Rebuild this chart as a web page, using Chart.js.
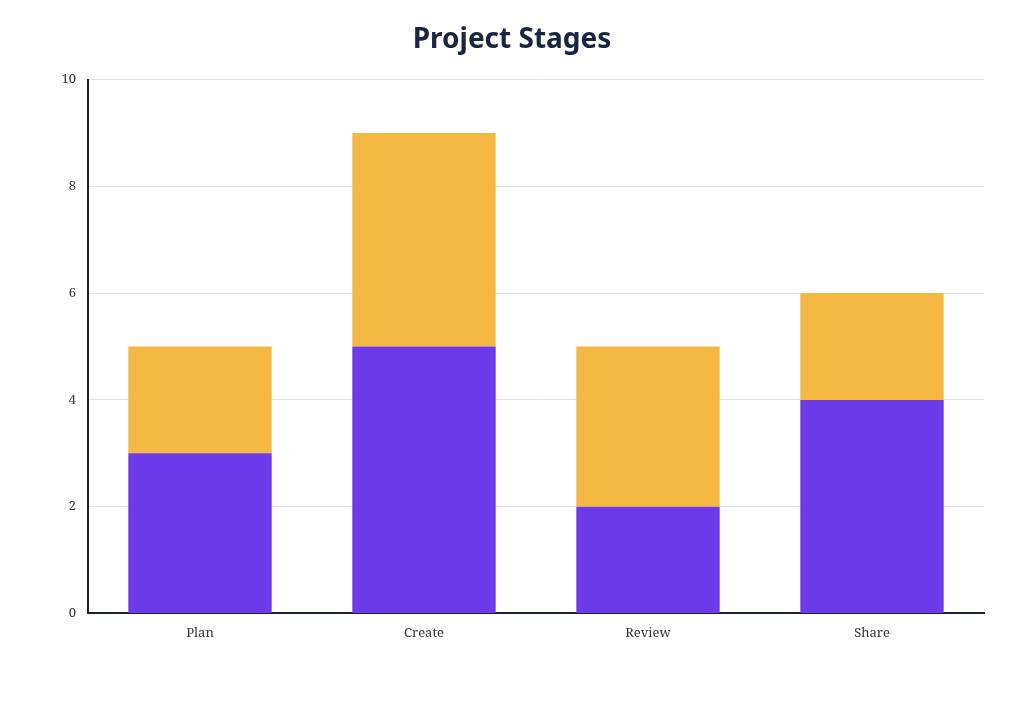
<!DOCTYPE html>
<html>
<head>
<meta charset="utf-8">
<script src="https://cdn.jsdelivr.net/npm/chart.js@4"></script>
<style>
html,body{margin:0;padding:0;background:#fff;}
#wrap{width:1024px;height:705px;}
</style>
</head>
<body>
<div id="wrap"><canvas id="c" width="1024" height="705"></canvas></div>
<script>
const categories = ["Plan", "Create", "Review", "Share"];
const seriesA = [3, 5, 2, 4];
const seriesB = [2, 4, 3, 2];
const yTicks = [0, 2, 4, 6, 8, 10];

const axisColor = '#1b2236';
const tickFont = { family: "'Noto Serif', 'DejaVu Serif', serif", size: 13 };

new Chart(document.getElementById('c'), {
  type: 'bar',
  data: {
    labels: categories,
    datasets: [
      { label: 'A', data: seriesA, backgroundColor: '#6d3ae9', borderWidth: 0, categoryPercentage: 0.8, barPercentage: 0.8 },
      { label: 'B', data: seriesB, backgroundColor: '#f5b843', borderWidth: 0, categoryPercentage: 0.8, barPercentage: 0.8 }
    ]
  },
  options: {
    responsive: false,
    animation: false,
    devicePixelRatio: 1,
    layout: { padding: { left: 40, right: 40, top: 10, bottom: 52 } },
    plugins: {
      legend: { display: false },
      tooltip: { enabled: false },
      title: {
        display: true,
        text: 'Project Stages',
        color: '#1b2440',
        font: { family: "'Noto Sans', sans-serif", size: 28, weight: 'bold' },
        padding: { top: 13, bottom: 23 }
      }
    },
    scales: {
      x: {
        stacked: true,
        grid: { display: false, drawTicks: false },
        border: { display: true, color: axisColor, width: 2 },
        ticks: { color: '#333', font: tickFont, padding: 12 }
      },
      y: {
        stacked: true,
        min: 0,
        max: 10,
        afterBuildTicks: (axis) => { axis.ticks = yTicks.map(v => ({ value: v })); },
        afterFit: (axis) => { axis.width = 48; },
        grid: { color: '#e3e3e3', drawTicks: false },
        border: { display: true, color: axisColor, width: 2 },
        ticks: { color: '#333', font: tickFont, padding: 12 }
      }
    }
  }
});
</script>
</body>
</html>
